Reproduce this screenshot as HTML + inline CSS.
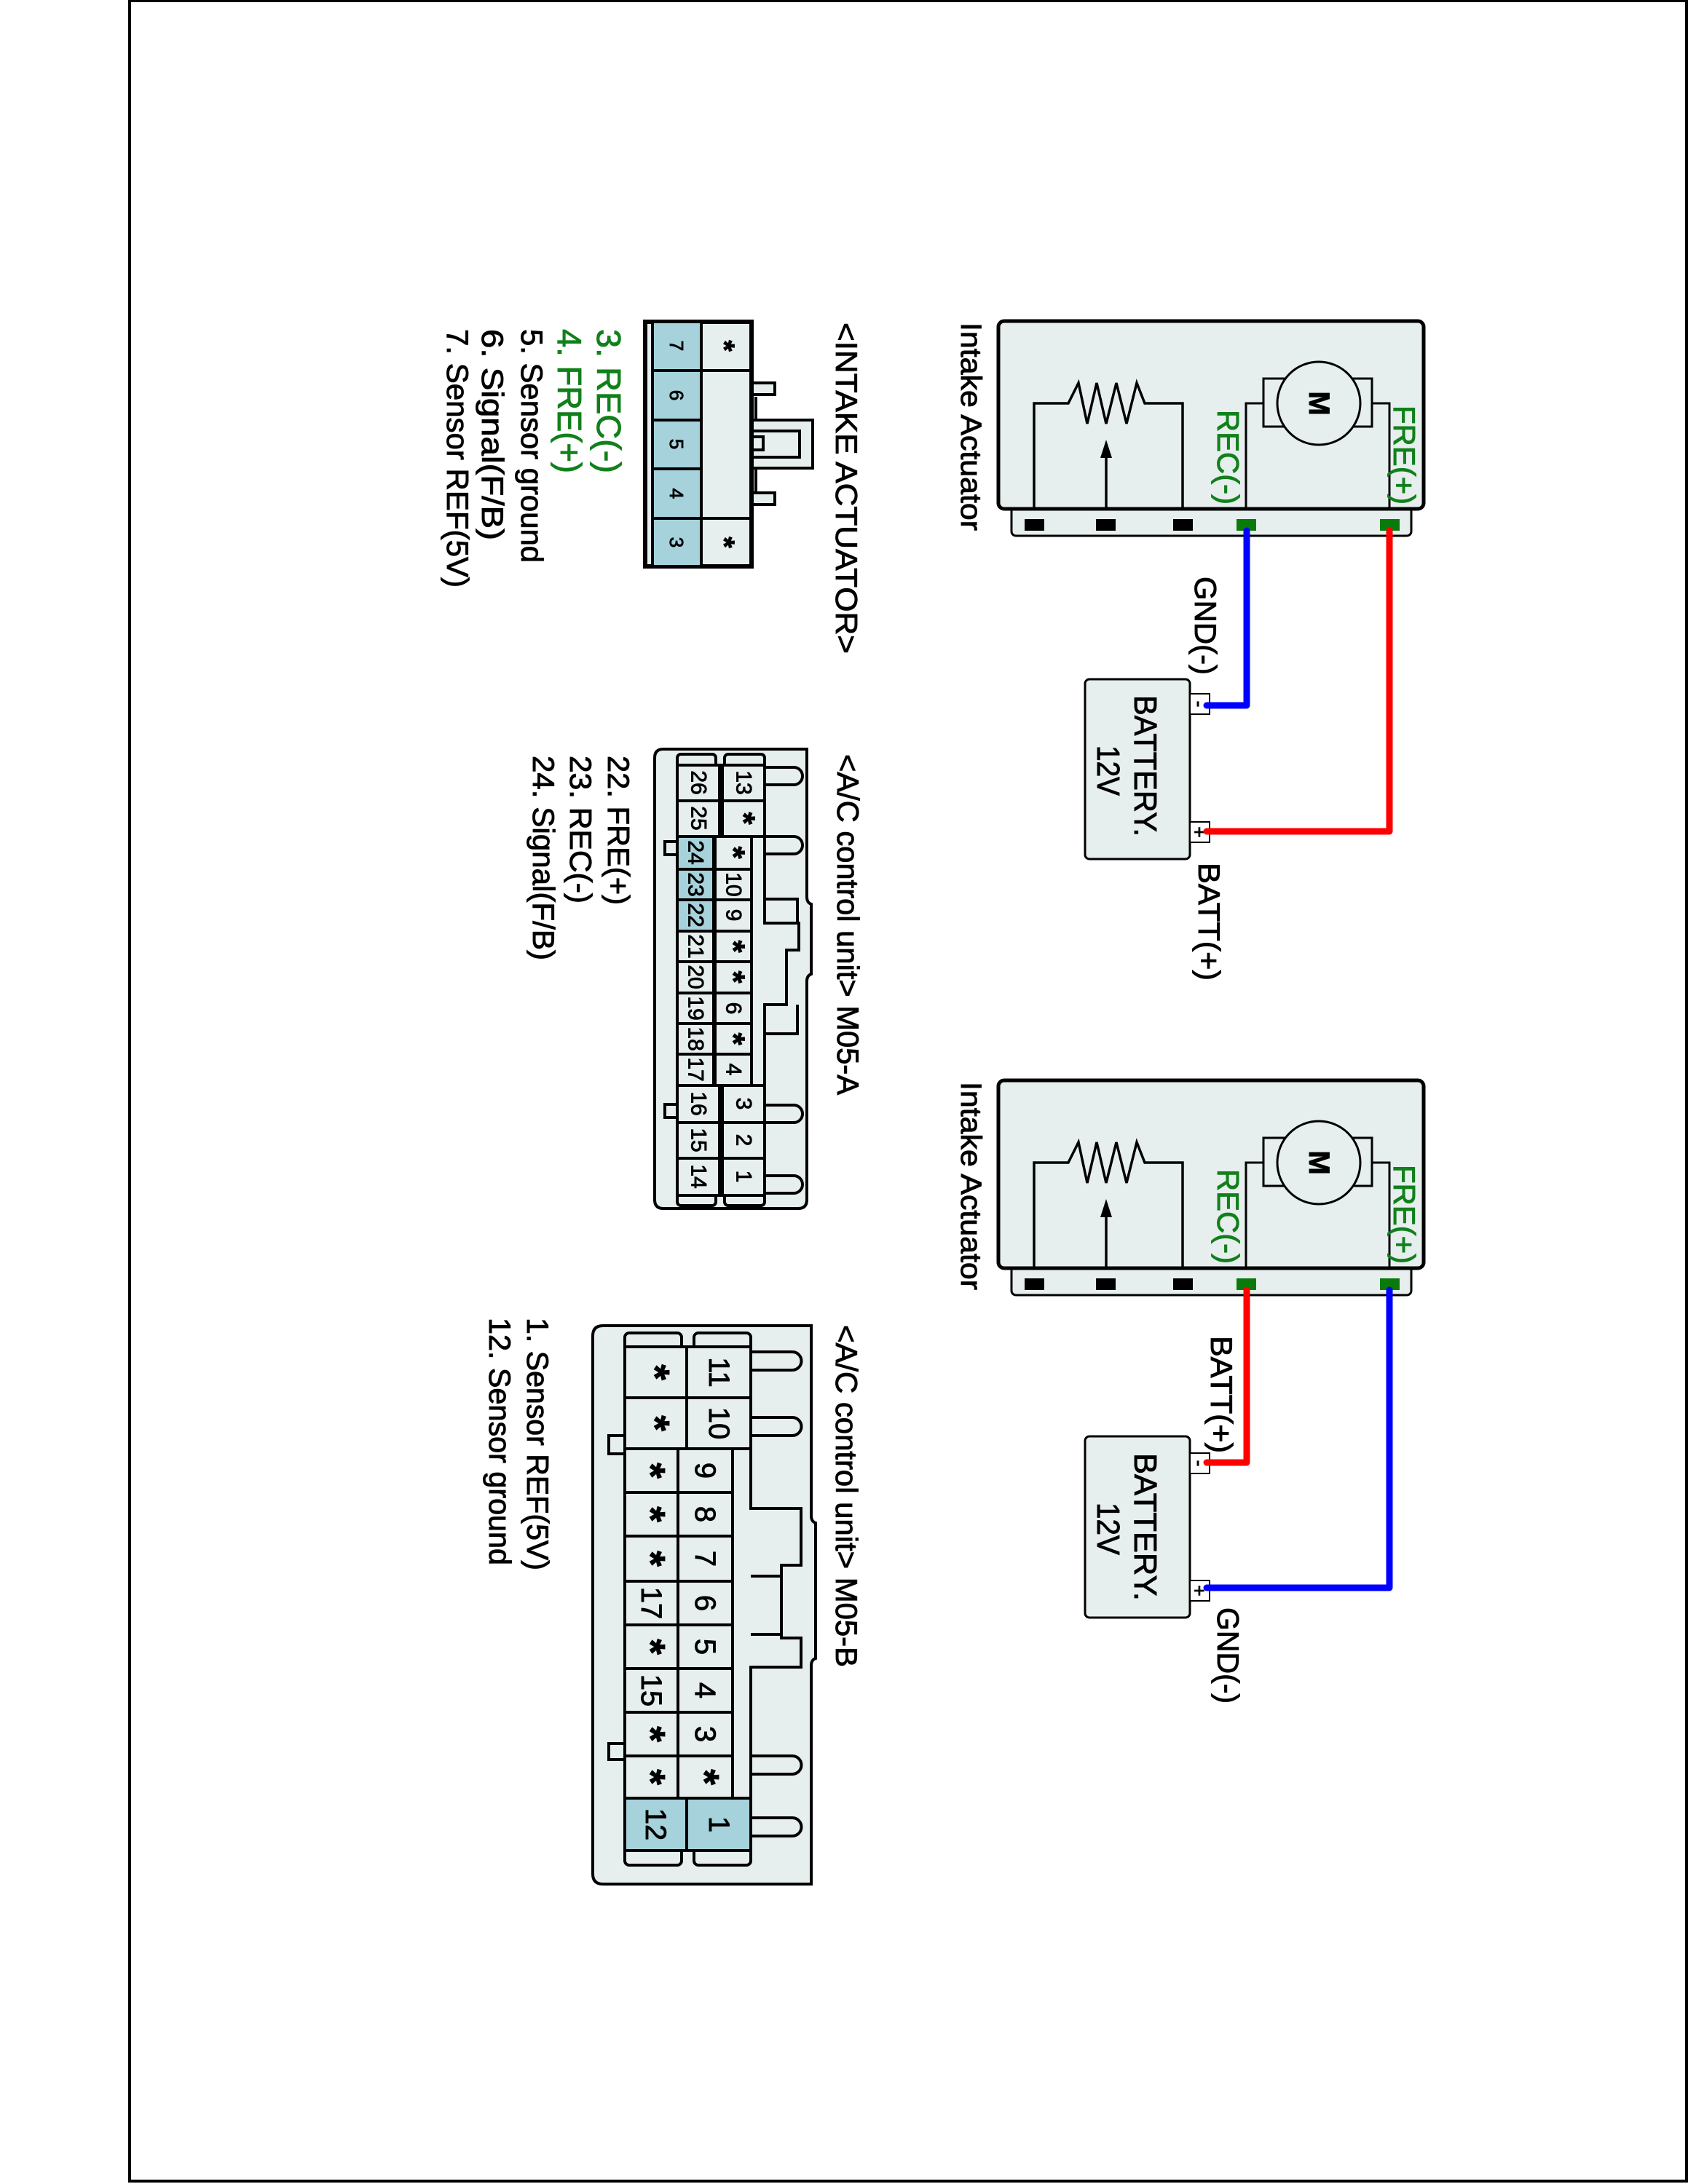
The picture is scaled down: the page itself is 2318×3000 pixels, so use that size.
<!DOCTYPE html>
<html><head><meta charset="utf-8"><style>
html,body{margin:0;padding:0;background:#fff;}
svg{display:block;}
text{font-family:"Liberation Sans",Arial,sans-serif;fill:#000;stroke:#000;stroke-width:0.9;}
.g{fill:#11801a;stroke:#11801a;}
</style></head><body>
<svg width="2318" height="3000" viewBox="0 0 2318 3000" xmlns="http://www.w3.org/2000/svg">
<rect x="178" y="1" width="2138" height="2995" fill="none" stroke="#000" stroke-width="4"/>

<!-- ============ TOP ACTUATOR ============ -->
<g id="act1">
<rect x="1389" y="690" width="549" height="46" rx="6" fill="#e6eeee" stroke="#000" stroke-width="3"/>
<rect x="1371" y="441" width="584" height="258" rx="8" fill="#e6eeee" stroke="#000" stroke-width="5"/>
<rect x="1407" y="713" width="27" height="16" fill="#000"/>
<rect x="1505" y="713" width="27" height="16" fill="#000"/>
<rect x="1611" y="713" width="27" height="16" fill="#000"/>
<rect x="1698" y="713" width="27" height="16" fill="#0a7a0a"/>
<rect x="1895" y="713" width="27" height="16" fill="#0a7a0a"/>
<rect x="1735" y="520" width="149" height="66" fill="none" stroke="#000" stroke-width="3"/>
<circle cx="1811" cy="554" r="57" fill="#e6eeee" stroke="#000" stroke-width="3"/>
<polyline points="1735,554 1711,554 1711,699" fill="none" stroke="#000" stroke-width="3"/>
<polyline points="1884,554 1908,554 1908,699" fill="none" stroke="#000" stroke-width="3"/>
<text transform="translate(1811,554) rotate(90)" text-anchor="middle" dominant-baseline="central" font-size="40" font-weight="bold">M</text>
<polyline points="1420,699 1420,554 1467,554 1481,526 1493,582 1506,526 1519,582 1533,526 1547,582 1561,526 1572,554 1624,554 1624,699" fill="none" stroke="#000" stroke-width="3.5"/>
<line x1="1519" y1="699" x2="1519" y2="620" stroke="#000" stroke-width="3.5"/>
<polygon points="1519,604 1511,629 1527,629" fill="#000"/>
<text class="g" transform="translate(1672,563) rotate(90)" font-size="42" textLength="130" lengthAdjust="spacingAndGlyphs">REC(-)</text>
<text class="g" transform="translate(1914,557) rotate(90)" font-size="42" textLength="136" lengthAdjust="spacingAndGlyphs">FRE(+)</text>
<text transform="translate(1320,443) rotate(90)" font-size="40" textLength="286" lengthAdjust="spacingAndGlyphs">Intake Actuator</text>
</g>
<rect x="1490" y="933" width="144" height="247" rx="6" fill="#e6eeee" stroke="#000" stroke-width="3"/>
<rect x="1634" y="953" width="27" height="28" fill="#fff" stroke="#000" stroke-width="2"/>
<rect x="1634" y="1129" width="27" height="28" fill="#fff" stroke="#000" stroke-width="2"/>
<text transform="translate(1647,967) rotate(90)" text-anchor="middle" dominant-baseline="central" font-size="26">-</text>
<text transform="translate(1647,1143) rotate(90)" text-anchor="middle" dominant-baseline="central" font-size="26">+</text>
<text transform="translate(1558,955) rotate(90)" font-size="44" textLength="194" lengthAdjust="spacingAndGlyphs">BATTERY.</text>
<text transform="translate(1507,1024) rotate(90)" font-size="44" textLength="69" lengthAdjust="spacingAndGlyphs">12V</text>
<polyline points="1712,729 1712,969 1657,969" fill="none" stroke="#0000ff" stroke-width="9" stroke-linejoin="round" stroke-linecap="round"/>
<polyline points="1908,729 1908,1142 1657,1142" fill="none" stroke="#ff0000" stroke-width="9" stroke-linejoin="round" stroke-linecap="round"/>
<text transform="translate(1641,792) rotate(90)" font-size="42" textLength="135" lengthAdjust="spacingAndGlyphs">GND(-)</text>
<text transform="translate(1646,1185) rotate(90)" font-size="42" textLength="162" lengthAdjust="spacingAndGlyphs">BATT(+)</text>

<!-- ============ BOTTOM ACTUATOR ============ -->
<use href="#act1" transform="translate(0,1043)"/>
<rect x="1490" y="1973" width="144" height="249" rx="6" fill="#e6eeee" stroke="#000" stroke-width="3"/>
<rect x="1634" y="1996" width="27" height="28" fill="#fff" stroke="#000" stroke-width="2"/>
<rect x="1634" y="2171" width="27" height="28" fill="#fff" stroke="#000" stroke-width="2"/>
<text transform="translate(1647,2010) rotate(90)" text-anchor="middle" dominant-baseline="central" font-size="26">-</text>
<text transform="translate(1647,2185) rotate(90)" text-anchor="middle" dominant-baseline="central" font-size="26">+</text>
<text transform="translate(1558,1996) rotate(90)" font-size="44" textLength="203" lengthAdjust="spacingAndGlyphs">BATTERY.</text>
<text transform="translate(1507,2064) rotate(90)" font-size="44" textLength="72" lengthAdjust="spacingAndGlyphs">12V</text>
<polyline points="1712,1772 1712,2009 1657,2009" fill="none" stroke="#ff0000" stroke-width="9" stroke-linejoin="round" stroke-linecap="round"/>
<polyline points="1908,1772 1908,2181 1657,2181" fill="none" stroke="#0000ff" stroke-width="9" stroke-linejoin="round" stroke-linecap="round"/>
<text transform="translate(1663,1835) rotate(90)" font-size="42" textLength="161" lengthAdjust="spacingAndGlyphs">BATT(+)</text>
<text transform="translate(1672,2208) rotate(90)" font-size="42" textLength="132" lengthAdjust="spacingAndGlyphs">GND(-)</text>

<!-- ============ INTAKE ACTUATOR CONNECTOR ============ -->
<text transform="translate(1148,443) rotate(90)" font-size="42" textLength="455" lengthAdjust="spacingAndGlyphs">&lt;INTAKE ACTUATOR&gt;</text>
<g stroke="#000" fill="#e6eeee">
<rect x="1032" y="526" width="32" height="16" stroke-width="4"/>
<rect x="1032" y="677" width="32" height="16" stroke-width="4"/>
<rect x="1032" y="577" width="84" height="66" stroke-width="4"/>
<rect x="1032" y="592" width="66" height="36" stroke-width="4"/>
<rect x="1032" y="600" width="16" height="18" stroke-width="4"/>
<line x1="1038" y1="545" x2="1038" y2="577" stroke-width="4"/>
<line x1="1038" y1="643" x2="1038" y2="677" stroke-width="4"/>
<rect x="886" y="442" width="146" height="336" stroke-width="6"/>
<rect x="896" y="442" width="67" height="336" fill="#a6d2dc" stroke-width="4"/>
<line x1="896" y1="509" x2="1032" y2="509" stroke-width="4"/>
<line x1="896" y1="712" x2="1032" y2="712" stroke-width="4"/>
<line x1="896" y1="577" x2="963" y2="577" stroke-width="4"/>
<line x1="896" y1="644" x2="963" y2="644" stroke-width="4"/>
</g>
<g font-size="26" text-anchor="middle" dominant-baseline="central">
<text transform="translate(929,475) rotate(90)">7</text>
<text transform="translate(929,543) rotate(90)">6</text>
<text transform="translate(929,610) rotate(90)">5</text>
<text transform="translate(929,678) rotate(90)">4</text>
<text transform="translate(929,745) rotate(90)">3</text>
<text transform="translate(994,475) rotate(90)" font-size="40" font-weight="bold">*</text>
<text transform="translate(994,745) rotate(90)" font-size="40" font-weight="bold">*</text>
</g>
<text class="g" transform="translate(820,452) rotate(90)" font-size="46" textLength="198" lengthAdjust="spacingAndGlyphs">3. REC(-)</text>
<text class="g" transform="translate(766,452) rotate(90)" font-size="46" textLength="198" lengthAdjust="spacingAndGlyphs">4. FRE(+)</text>
<text transform="translate(716,452) rotate(90)" font-size="42" textLength="321" lengthAdjust="spacingAndGlyphs">5. Sensor ground</text>
<text transform="translate(662,452) rotate(90)" font-size="42" textLength="290" lengthAdjust="spacingAndGlyphs">6. Signal(F/B)</text>
<text transform="translate(614,452) rotate(90)" font-size="42" textLength="355" lengthAdjust="spacingAndGlyphs">7. Sensor REF(5V)</text>

<!-- ============ M05-A ============ -->
<text transform="translate(1150,1036) rotate(90)" font-size="42" textLength="468" lengthAdjust="spacingAndGlyphs">&lt;A/C control unit&gt; M05-A</text>
<g stroke="#000" stroke-width="4" fill="#e6eeee">
<path d="M911,1029 H1108 V1232 Q1108,1240 1114,1242 V1338 Q1108,1340 1108,1348 V1648 Q1108,1660 1096,1660 H911 Q899,1660 899,1648 V1041 Q899,1029 911,1029 Z"/>
<path d="M1050,1054 H1090 A12,12 0 0 1 1090,1078 H1050"/>
<path d="M1050,1149 H1090 A12,12 0 0 1 1090,1173 H1050"/>
<path d="M1050,1518 H1090 A12,12 0 0 1 1090,1542 H1050"/>
<path d="M1050,1615 H1090 A12,12 0 0 1 1090,1639 H1050"/>
<path d="M1050,1149 V1268 H1097 V1305 H1080 V1380 H1050 V1491" fill="none"/>
<path d="M1050,1235 H1095 V1268 M1050,1420 H1095 V1380" fill="none"/>
<rect x="913" y="1156" width="17" height="18"/>
<rect x="913" y="1517" width="17" height="18"/>
<rect x="930" y="1036" width="53" height="20" rx="5"/>
<rect x="995" y="1036" width="55" height="20" rx="5"/>
<rect x="930" y="1636" width="53" height="20" rx="5"/>
<rect x="995" y="1636" width="55" height="20" rx="5"/>
<rect x="930" y="1051" width="58" height="98"/>
<rect x="992" y="1051" width="58" height="98"/>
<line x1="930" y1="1100" x2="1050" y2="1100"/>
<rect x="930" y="1149" width="50" height="342"/>
<rect x="930" y="1149" width="50" height="130" fill="#a6d2dc"/>
<rect x="982" y="1149" width="50" height="342"/>
<rect x="930" y="1491" width="58" height="151"/>
<rect x="992" y="1491" width="58" height="151"/>
<path d="M930,1194 H1032 M930,1236 H1032 M930,1279 H1032 M930,1321 H1032 M930,1364 H1032 M930,1406 H1032 M930,1448 H1032 M930,1542 H1050 M930,1591 H1050" fill="none"/>
</g>
<g font-size="30" text-anchor="middle" dominant-baseline="central">
<text transform="translate(959,1075) rotate(90)">26</text>
<text transform="translate(959,1124) rotate(90)">25</text>
<text transform="translate(1021,1075) rotate(90)">13</text>
<text transform="translate(1021,1124) rotate(90)" font-size="44" font-weight="bold">*</text>
<text transform="translate(955,1171) rotate(90)">24</text>
<text transform="translate(955,1215) rotate(90)">23</text>
<text transform="translate(955,1257) rotate(90)">22</text>
<text transform="translate(955,1300) rotate(90)">21</text>
<text transform="translate(955,1342) rotate(90)">20</text>
<text transform="translate(955,1385) rotate(90)">19</text>
<text transform="translate(955,1427) rotate(90)">18</text>
<text transform="translate(955,1469) rotate(90)">17</text>
<g font-size="44" font-weight="bold">
<text transform="translate(1007,1171) rotate(90)">*</text>
<text transform="translate(1007,1300) rotate(90)">*</text>
<text transform="translate(1007,1342) rotate(90)">*</text>
<text transform="translate(1007,1427) rotate(90)">*</text>
</g>
<text transform="translate(1007,1215) rotate(90)">10</text>
<text transform="translate(1007,1257) rotate(90)">9</text>
<text transform="translate(1007,1385) rotate(90)">6</text>
<text transform="translate(1007,1469) rotate(90)">4</text>
<text transform="translate(959,1516) rotate(90)">16</text>
<text transform="translate(959,1566) rotate(90)">15</text>
<text transform="translate(959,1616) rotate(90)">14</text>
<text transform="translate(1021,1516) rotate(90)">3</text>
<text transform="translate(1021,1566) rotate(90)">2</text>
<text transform="translate(1021,1616) rotate(90)">1</text>
</g>
<text transform="translate(835,1038) rotate(90)" font-size="42" textLength="205" lengthAdjust="spacingAndGlyphs">22. FRE(+)</text>
<text transform="translate(783,1038) rotate(90)" font-size="42" textLength="203" lengthAdjust="spacingAndGlyphs">23. REC(-)</text>
<text transform="translate(732,1038) rotate(90)" font-size="42" textLength="281" lengthAdjust="spacingAndGlyphs">24. Signal(F/B)</text>

<!-- ============ M05-B ============ -->
<text transform="translate(1148,1820) rotate(90)" font-size="42" textLength="470" lengthAdjust="spacingAndGlyphs">&lt;A/C control unit&gt; M05-B</text>
<g stroke="#000" stroke-width="4" fill="#e6eeee">
<path d="M828,1821 H1114 V2082 Q1114,2090 1120,2092 V2278 Q1114,2280 1114,2288 V2588 H828 Q814,2588 814,2574 V1835 Q814,1821 828,1821 Z"/>
<path d="M1031,1857 H1088 A12,12 0 0 1 1088,1882 H1031"/>
<path d="M1031,1947 H1088 A12,12 0 0 1 1088,1972 H1031"/>
<path d="M1031,2412 H1088 A12,12 0 0 1 1088,2437 H1031"/>
<path d="M1031,2497 H1088 A12,12 0 0 1 1088,2522 H1031"/>
<path d="M1031,1990 V2072 H1100 V2150 H1073 V2250 H1100 V2290 H1031 V2470" fill="none"/>
<path d="M1031,2165 H1073 V2150 M1031,2245 H1073" fill="none"/>
<rect x="836" y="1972" width="22" height="25"/>
<rect x="836" y="2395" width="22" height="22"/>
<rect x="858" y="1831" width="78" height="24" rx="6"/>
<rect x="953" y="1831" width="78" height="24" rx="6"/>
<rect x="858" y="2538" width="78" height="24" rx="6"/>
<rect x="953" y="2538" width="78" height="24" rx="6"/>
<rect x="858" y="1850" width="85" height="140"/>
<rect x="943" y="1850" width="88" height="140"/>
<line x1="858" y1="1920" x2="1031" y2="1920"/>
<rect x="858" y="1990" width="73" height="480"/>
<rect x="931" y="1990" width="75" height="480"/>
<path d="M858,2050 H1006 M858,2110 H1006 M858,2172 H1006 M858,2232 H1006 M858,2292 H1006 M858,2352 H1006 M858,2412 H1006" fill="none"/>
<rect x="858" y="2470" width="85" height="72" fill="#a6d2dc"/>
<rect x="943" y="2470" width="88" height="72" fill="#a6d2dc"/>
</g>
<g font-size="40" text-anchor="middle" dominant-baseline="central">
<g font-size="56" font-weight="bold">
<text transform="translate(900,1885) rotate(90)">*</text>
<text transform="translate(900,1955) rotate(90)">*</text>
<text transform="translate(894,2020) rotate(90)">*</text>
<text transform="translate(894,2080) rotate(90)">*</text>
<text transform="translate(894,2141) rotate(90)">*</text>
<text transform="translate(894,2262) rotate(90)">*</text>
<text transform="translate(894,2382) rotate(90)">*</text>
<text transform="translate(894,2441) rotate(90)">*</text>
<text transform="translate(968,2441) rotate(90)">*</text>
</g>
<text transform="translate(987,1885) rotate(90)">11</text>
<text transform="translate(987,1955) rotate(90)">10</text>
<text transform="translate(894,2202) rotate(90)">17</text>
<text transform="translate(894,2322) rotate(90)">15</text>
<text transform="translate(968,2020) rotate(90)">9</text>
<text transform="translate(968,2080) rotate(90)">8</text>
<text transform="translate(968,2141) rotate(90)">7</text>
<text transform="translate(968,2202) rotate(90)">6</text>
<text transform="translate(968,2262) rotate(90)">5</text>
<text transform="translate(968,2322) rotate(90)">4</text>
<text transform="translate(968,2382) rotate(90)">3</text>
<text transform="translate(900,2506) rotate(90)">12</text>
<text transform="translate(987,2506) rotate(90)">1</text>
</g>
<text transform="translate(724,1810) rotate(90)" font-size="42" textLength="347" lengthAdjust="spacingAndGlyphs">1. Sensor REF(5V)</text>
<text transform="translate(672,1810) rotate(90)" font-size="42" textLength="340" lengthAdjust="spacingAndGlyphs">12. Sensor ground</text>
</svg>
</body></html>
